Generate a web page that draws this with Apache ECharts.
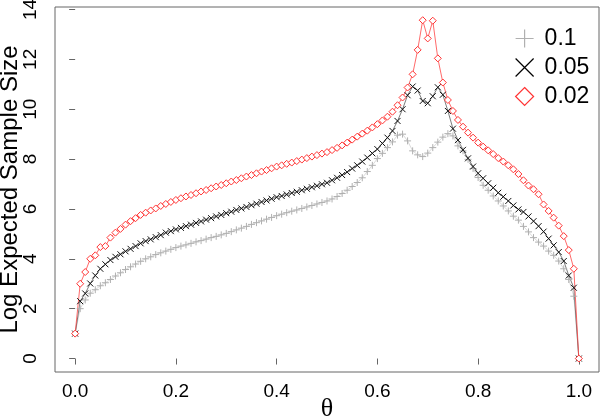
<!DOCTYPE html>
<html>
<head>
<meta charset="utf-8">
<script src="https://cdn.jsdelivr.net/npm/echarts@6/dist/echarts.min.js"></script>
<style>
  html, body { margin: 0; padding: 0; background: #fff; }
  #chart { width: 600px; height: 419px; }
</style>
</head>
<body>
<div id="chart"></div>
<script>
// theta grid
const theta = [0.00,0.01,0.02,0.03,0.04,0.05,0.06,0.07,0.08,0.09,0.10,0.11,0.12,0.13,0.14,0.15,0.16,0.17,0.18,0.19,
  0.20,0.21,0.22,0.23,0.24,0.25,0.26,0.27,0.28,0.29,0.30,0.31,0.32,0.33,0.34,0.35,0.36,0.37,0.38,0.39,
  0.40,0.41,0.42,0.43,0.44,0.45,0.46,0.47,0.48,0.49,0.50,0.51,0.52,0.53,0.54,0.55,0.56,0.57,0.58,0.59,
  0.60,0.61,0.62,0.63,0.64,0.65,0.66,0.67,0.68,0.69,0.70,0.71,0.72,0.73,0.74,0.75,0.76,0.77,0.78,0.79,
  0.80,0.81,0.82,0.83,0.84,0.85,0.86,0.87,0.88,0.89,0.90,0.91,0.92,0.93,0.94,0.95,0.96,0.97,0.98,0.99,1.00]

// log expected sample size, alpha = 0.1
const ess010 = [1.00,2.00,2.35,2.62,2.76,2.92,3.04,3.17,3.31,3.44,3.57,3.68,3.79,3.90,4.00,4.08,4.17,4.24,4.31,4.38,
  4.45,4.51,4.56,4.62,4.68,4.73,4.79,4.85,4.90,4.96,5.02,5.09,5.16,5.23,5.30,5.38,5.45,5.52,5.59,5.66,
  5.73,5.79,5.85,5.91,5.96,6.02,6.08,6.14,6.20,6.26,6.32,6.40,6.50,6.62,6.75,6.90,7.06,7.25,7.50,7.75,
  8.02,8.23,8.46,8.69,8.96,9.00,8.73,8.33,8.17,8.10,8.24,8.46,8.68,8.88,9.02,8.93,8.53,8.33,7.99,7.62,
  7.26,6.95,6.75,6.52,6.32,6.12,5.92,5.71,5.55,5.30,5.08,4.85,4.67,4.51,4.31,4.14,3.91,3.60,3.17,2.50,0.00]

// alpha = 0.05
const ess005 = [1.00,2.30,2.61,3.01,3.33,3.60,3.78,3.95,4.08,4.18,4.30,4.40,4.51,4.62,4.71,4.78,4.87,4.95,5.05,5.11,
  5.18,5.24,5.31,5.37,5.44,5.50,5.57,5.63,5.70,5.76,5.83,5.89,5.96,6.02,6.08,6.15,6.21,6.28,6.34,6.41,
  6.47,6.52,6.58,6.64,6.69,6.75,6.81,6.87,6.93,6.99,7.05,7.15,7.25,7.36,7.48,7.62,7.75,7.90,8.06,8.23,
  8.40,8.63,8.86,9.13,9.53,10.00,10.56,10.91,10.75,10.33,10.24,10.52,10.88,10.58,9.93,9.22,8.76,8.37,8.03,7.70,
  7.43,7.23,7.03,6.85,6.65,6.49,6.32,6.14,5.98,5.88,5.70,5.51,5.31,5.09,4.81,4.54,4.27,3.91,3.33,2.84,0.00]

// alpha = 0.02
const ess002 = [1.00,3.00,3.47,4.00,4.14,4.47,4.51,4.85,5.05,5.20,5.37,5.51,5.63,5.76,5.85,5.94,6.02,6.12,6.20,6.28,
  6.36,6.43,6.50,6.56,6.63,6.70,6.76,6.83,6.90,6.96,7.03,7.10,7.16,7.23,7.30,7.36,7.43,7.50,7.56,7.63,
  7.70,7.75,7.81,7.86,7.92,7.98,8.04,8.10,8.16,8.22,8.28,8.36,8.45,8.55,8.66,8.78,8.90,9.02,9.14,9.27,
  9.40,9.55,9.70,9.90,10.16,10.47,10.87,11.40,12.38,13.57,12.84,13.55,12.04,11.07,10.37,9.93,9.57,9.30,9.06,8.86,
  8.66,8.50,8.35,8.20,8.04,7.90,7.75,7.59,7.40,7.15,6.94,6.79,6.59,6.18,5.92,5.65,5.33,4.91,4.35,3.60,0.00]

const xTicks = [0, 0.2, 0.4, 0.6, 0.8, 1.0]
const yTicks = [0, 2, 4, 6, 8, 10, 12, 14]

const plusIcon = 'path://M0,5L10,5M5,0L5,10'
const crossIcon = 'path://M0,0L10,10M10,0L0,10'

const pairs = ys => theta.map((t, i) => [t, ys[i]])

const myChart = echarts.init(document.getElementById('chart'))

const tickFont = { fontFamily: 'Liberation Sans', fontSize: 19, color: '#000' }

const option = {
  animation: false,
  grid: {
    left: 55, right: 1, top: 7, bottom: 47,
    outerBoundsMode: 'none', containLabel: false,
    show: true, borderColor: '#666', borderWidth: 1
  },
  xAxis: {
    type: 'value', min: -0.04, max: 1.04,
    name: 'θ', nameLocation: 'middle', nameGap: 24, nameMoveOverlap: false,
    nameTextStyle: { fontFamily: 'Liberation Serif', fontSize: 26, color: '#000' },
    axisLine: { show: false },
    splitLine: { show: false },
    axisTick: { show: true, inside: false, length: 6, customValues: xTicks, lineStyle: { color: '#666' } },
    axisLabel: { ...tickFont, margin: 10, customValues: xTicks, formatter: v => v.toFixed(1) }
  },
  yAxis: {
    type: 'value', min: -0.54, max: 14.1,
    name: 'Log Expected Sample Size', nameLocation: 'middle', nameGap: 33, nameMoveOverlap: false,
    nameTextStyle: { fontFamily: 'Liberation Sans', fontSize: 24, color: '#000' },
    axisLine: { show: false },
    splitLine: { show: false },
    axisTick: { show: true, inside: false, length: 6, customValues: yTicks, lineStyle: { color: '#666' } },
    axisLabel: { ...tickFont, margin: 15, rotate: 90, customValues: yTicks }
  },
  legend: {
    orient: 'vertical', left: 510, top: 22, itemGap: 6,
    itemWidth: 18, itemHeight: 18,
    lineStyle: { opacity: 0 },
    textStyle: { fontFamily: 'Liberation Sans', fontSize: 23, color: '#000', padding: [0, 0, 0, 6] },
    data: [
      { name: '0.1', icon: plusIcon, itemStyle: { color: 'transparent', borderColor: '#b0b0b0', borderWidth: 1.2 } },
      { name: '0.05', icon: crossIcon, itemStyle: { color: 'transparent', borderColor: '#000', borderWidth: 1.2 } },
      { name: '0.02', icon: 'diamond', itemStyle: { color: '#fff', borderColor: '#ff3333', borderWidth: 1.2 } }
    ]
  },
  series: [
    {
      name: '0.1', type: 'line', data: pairs(ess010),
      symbol: plusIcon, symbolSize: 7,
      itemStyle: { color: 'transparent', borderColor: '#b0b0b0', borderWidth: 1 },
      lineStyle: { color: '#d0d0d0', width: 0.8 }
    },
    {
      name: '0.05', type: 'line', data: pairs(ess005),
      symbol: crossIcon, symbolSize: 6,
      itemStyle: { color: 'transparent', borderColor: '#111', borderWidth: 1 },
      lineStyle: { color: '#444', width: 0.7 }
    },
    {
      name: '0.02', type: 'line', data: pairs(ess002),
      symbol: 'diamond', symbolSize: 7,
      itemStyle: { color: '#fff', borderColor: '#ff3333', borderWidth: 1 },
      lineStyle: { color: '#ff4444', width: 0.8 }
    }
  ]
}

myChart.setOption(option)
</script>
</body>
</html>
